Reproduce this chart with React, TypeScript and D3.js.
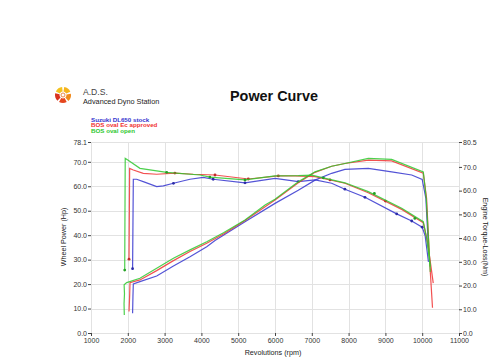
import React, { useRef, useEffect } from 'react';
import * as d3 from 'd3';

// [rpm, value]
const stockPower: [number, number][] = [
  [2130, 8.1], [2140, 15], [2150, 20.1], [2330, 21.0], [2785, 23.3], [3240, 27.4], [3690, 31.2],
  [4145, 35.3], [4370, 37.8], [5185, 45.5], [6000, 53.0], [6633, 58.4], [7087, 62.5], [7540, 65.3],
  [7900, 66.9], [8535, 67.3], [9170, 65.9], [9715, 64.6], [10000, 62.8], [10100, 55], [10170, 35],
];
const stockTorque: [number, number][] = [
  [2130, 27.1], [2150, 64.8], [2240, 64.8], [2420, 63.8], [2785, 61.7], [2965, 62.0], [3240, 63.1],
  [3690, 64.8], [4050, 65.6], [4320, 64.8], [5185, 63.3], [6000, 65.2], [6633, 63.8], [7087, 64.5],
  [7540, 63.1], [7900, 60.6], [8445, 57.2], [9307, 50.2], [9715, 47.2], [10000, 44.6], [10080, 41],
  [10170, 30],
];
const stockMarks: [number, number][] = [
  [2130, 27.1], [3240, 63.1], [4320, 64.8], [5185, 63.3], [6633, 63.8], [7900, 60.6], [8445, 57.2],
  [9307, 50.2], [9715, 47.2], [10000, 44.6],
];

const ecPower: [number, number][] = [
  [2033, 8.8], [2050, 15], [2060, 20.6], [2330, 21.7], [2785, 25.5], [3240, 29.6], [3690, 33.3],
  [4145, 36.7], [4600, 40.5], [5185, 46.0], [6000, 54.4], [6633, 61.4], [7087, 65.7], [7540, 68.2],
  [7900, 69.3], [8535, 70.7], [9170, 70.4], [10030, 65.3], [10120, 55], [10200, 30], [10280, 10.3],
];
const ecTorque: [number, number][] = [
  [2033, 31.1], [2050, 69.4], [2150, 68.7], [2420, 67.3], [2785, 66.9], [3280, 67.4], [3780, 66.9],
  [4370, 66.6], [5275, 64.9], [6090, 66.2], [6545, 66.2], [7087, 65.9], [7495, 64.5], [7900, 63.1],
  [8535, 59.1], [9443, 52.1], [10030, 46.5], [10150, 38], [10300, 21],
];
const ecMarks: [number, number][] = [
  [2033, 31.1], [3280, 67.4], [4370, 66.6], [5275, 64.9], [6090, 66.2], [7495, 64.5], [9000, 55.6],
];

const openPower: [number, number][] = [
  [1905, 7.4], [1898, 12], [1910, 16], [1900, 19.7], [1970, 20.6], [2330, 22.4], [2785, 26.5],
  [3240, 30.6], [3690, 34.0], [4145, 37.3], [4600, 41.0], [5185, 46.2], [5730, 52.3], [6000, 54.7],
  [6633, 61.8], [7087, 65.9], [7540, 68.2], [7900, 69.3], [8535, 71.4], [9170, 71.0], [10030, 65.9],
  [10110, 55], [10220, 25],
];
const openTorque: [number, number][] = [
  [1916, 26.5], [1930, 73.6], [2000, 72.9], [2330, 69.4], [3057, 67.7], [3960, 66.6], [4230, 65.7],
  [5185, 64.5], [6000, 66.2], [6633, 66.3], [7000, 66.5], [7313, 65.4], [7900, 63.3], [8535, 59.6],
  [9443, 52.6], [10030, 46.9], [10120, 40], [10220, 28],
];
const openMarks: [number, number][] = [
  [1916, 26.5], [3057, 67.7], [4230, 65.7], [5185, 64.5], [7313, 65.4], [8700, 58.8], [9800, 48.3],
];

const runNames = ['Suzuki DL650 stock', 'BOS oval Ec approved', 'BOS oval open'];
const rpmTicks = [1000, 2000, 3000, 4000, 5000, 6000, 7000, 8000, 9000, 10000, 11000];
const powerTicks = [0, 10, 20, 30, 40, 50, 60, 70, 78.1];
const torqueTicks = [0, 10, 20, 30, 40, 50, 60, 70, 80.5];

const font = "'Liberation Sans', Arial, sans-serif";

const App = () => {
  const svgRef = useRef(null);

  useEffect(() => {
    const svg = d3.select(svgRef.current);
    svg.selectAll('*').remove();

    const x = d3.scaleLinear().domain([1000, 11000]).range([91, 459]);
    const yP = d3.scaleLinear().domain([0, 78.1]).range([333, 142]);
    const yT = d3.scaleLinear().domain([0, 80.5]).range([333, 142]);
    const colors = ['#3535cf', '#f03232', '#2ec82e'];

    // grid
    const grid = svg.append('g').attr('stroke', '#e2e2e2').attr('stroke-width', 1);
    rpmTicks.forEach(t => {
      grid.append('line').attr('x1', Math.round(x(t)) + 0.5).attr('x2', Math.round(x(t)) + 0.5)
        .attr('y1', 142).attr('y2', 333);
    });
    powerTicks.forEach(t => {
      grid.append('line').attr('y1', Math.round(yP(t)) + 0.5).attr('y2', Math.round(yP(t)) + 0.5)
        .attr('x1', 91).attr('x2', 459);
    });

    const fmt = d3.format('.1f');
    const styleAxis = (g: any) => {
      g.select('.domain').remove();
      g.selectAll('line').attr('stroke', '#444');
      g.selectAll('text').attr('font-family', font).attr('font-size', 7).attr('fill', '#333');
    };

    svg.append('g').attr('transform', 'translate(91,0)')
      .call(d3.axisLeft(yP).tickValues(powerTicks).tickFormat(fmt as any).tickSize(3).tickPadding(1))
      .call(styleAxis);
    svg.append('g').attr('transform', 'translate(459,0)')
      .call(d3.axisRight(yT).tickValues(torqueTicks).tickFormat(fmt as any).tickSize(3).tickPadding(1))
      .call(styleAxis);
    svg.append('g').attr('transform', 'translate(0,333)')
      .call(d3.axisBottom(x).tickValues(rpmTicks).tickFormat(d3.format('d') as any).tickSize(3).tickPadding(2))
      .call(styleAxis);

    // curves
    const line = (yy: any) => d3.line<[number, number]>().x(d => x(d[0])).y(d => yy(d[1]));
    const runs = [
      { p: stockPower, t: stockTorque, m: stockMarks },
      { p: ecPower, t: ecTorque, m: ecMarks },
      { p: openPower, t: openTorque, m: openMarks },
    ];
    runs.forEach((r, i) => {
      svg.append('path').attr('d', line(yP)(r.p)).attr('fill', 'none')
        .attr('stroke', colors[i]).attr('stroke-width', 1.2).attr('opacity', 0.85);
      svg.append('path').attr('d', line(yT)(r.t)).attr('fill', 'none')
        .attr('stroke', colors[i]).attr('stroke-width', 1.2).attr('opacity', 0.85);
      svg.append('g').selectAll('circle').data(r.m).enter().append('circle')
        .attr('cx', d => x(d[0])).attr('cy', d => yT(d[1])).attr('r', 1.4)
        .attr('fill', d3.color(colors[i])!.darker(0.6).toString());
    });

    // axis titles
    svg.append('text').attr('transform', 'translate(66,237) rotate(-90)')
      .attr('text-anchor', 'middle').attr('font-family', font).attr('font-size', 7.2)
      .attr('fill', '#222').text('Wheel Power (Hp)');
    svg.append('text').attr('transform', 'translate(483,237) rotate(90)')
      .attr('text-anchor', 'middle').attr('font-family', font).attr('font-size', 7.1)
      .attr('fill', '#222').text('Engine Torque-Loss(Nm)');
    svg.append('text').attr('x', 273).attr('y', 355)
      .attr('text-anchor', 'middle').attr('font-family', font).attr('font-size', 7.2)
      .attr('fill', '#222').text('Revolutions (rpm)');

    // title
    svg.append('text').attr('x', 274).attr('y', 101).attr('text-anchor', 'middle')
      .attr('font-family', font).attr('font-size', 14.4).attr('font-weight', 'bold')
      .attr('fill', '#111').text('Power Curve');

    // legend
    runNames.forEach((n, i) => {
      svg.append('text').attr('x', 91).attr('y', 121.5 + i * 5.6)
        .attr('font-family', font).attr('font-size', 6.2).attr('font-weight', 'bold')
        .attr('fill', colors[i]).text(n);
    });

    // logo
    const logo = svg.append('g').attr('transform', 'translate(63,95)');
    const segColors = ['#f5b31c', '#f08a1c', '#e5461e', '#d9321e', '#f3c21e'];
    const arc = d3.arc<any>().innerRadius(3.5).outerRadius(8);
    segColors.forEach((c, i) => {
      const a0 = (i * 2 * Math.PI) / 5 + 0.15;
      logo.append('path').attr('d', arc({ startAngle: a0, endAngle: a0 + 1.0 })).attr('fill', c);
    });
    logo.append('circle').attr('r', 2).attr('fill', 'none').attr('stroke', '#e5701e').attr('stroke-width', 0.8);
    svg.append('text').attr('x', 83).attr('y', 94.5).attr('font-family', font)
      .attr('font-size', 8.6).attr('fill', '#444').text('A.D.S.');
    svg.append('text').attr('x', 83).attr('y', 103.5).attr('font-family', font)
      .attr('font-size', 7.3).attr('fill', '#222').text('Advanced Dyno Station');
  }, []);

  return (
    <svg ref={svgRef} width={500} height={364}
      style={{ position: 'absolute', left: 0, top: 0, background: '#fff' }}></svg>
  );
};

export default App;
